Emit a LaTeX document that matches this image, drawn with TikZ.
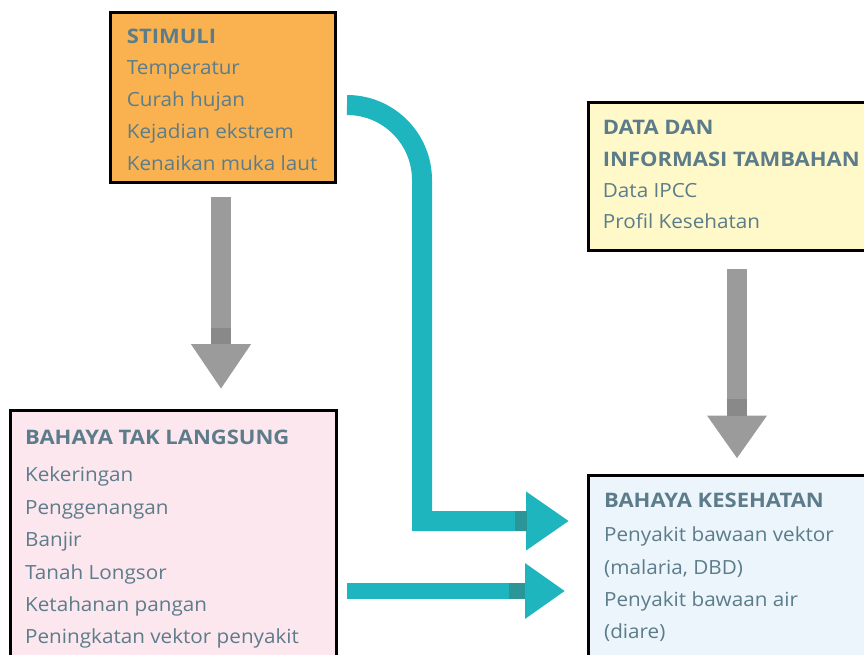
\documentclass[tikz,border=0pt]{standalone}
\usepackage{fontspec}
\setmainfont{Open Sans}[FakeStretch=1.06, BoldFeatures={FakeStretch=1.10}]
\usetikzlibrary{arrows.meta}
\definecolor{cOrange}{RGB}{249,178,79}
\definecolor{cYellow}{RGB}{255,249,202}
\definecolor{cPink}{RGB}{253,231,239}
\definecolor{cBlue}{RGB}{235,245,251}
\definecolor{cText}{RGB}{92,124,138}
\definecolor{cTeal}{RGB}{31,181,190}
\definecolor{cTealDk}{RGB}{42,150,152}
\definecolor{cGray}{RGB}{155,155,155}
\definecolor{cGrayDk}{RGB}{137,137,137}
\begin{document}
\begin{tikzpicture}[x=1pt,y=-1pt,
  box/.style={draw=black, line width=3pt, inner sep=0pt, outer sep=0pt, anchor=north west},
  txt/.style={anchor=base west, inner sep=0pt, text=cText, font=\fontsize{19.5}{22}\selectfont},
  ttl/.style={txt, font=\fontsize{20}{22}\selectfont\bfseries},
  grayarrow/.style={draw=cGray, line width=20pt, -{Triangle[length=#1, width=57pt]}},
  tealarrow/.style={draw=cTeal, line join=miter}
]
\useasboundingbox (0,0) rectangle (864,655);
\clip (0,0) rectangle (864,655);

% boxes
\node[box, fill=cOrange, minimum width=225.3pt, minimum height=170pt] (stim) at (110.5,12.8) {};
\node[box, fill=cYellow, minimum width=300pt, minimum height=148pt] (data) at (588.8,102.2) {};
\node[box, fill=cPink, minimum width=325.4pt, minimum height=300pt] (tak) at (10.8,410.8) {};
\node[box, fill=cBlue, minimum width=300pt, minimum height=300pt] (kes) at (588.8,475) {};

% texts: STIMULI
\node[ttl] (s0) at (126.7,44) {STIMULI};
\node[txt] (s1) at (126.7,75) {Temperatur};
\node[txt] (s2) at (126.7,106.5) {Curah hujan};
\node[txt] (s3) at (126.7,138.5) {Kejadian ekstrem};
\node[txt] (s4) at (126.7,170.5) {Kenaikan muka laut};

% DATA
\node[ttl] (d0) at (602.7,135) {DATA DAN};
\node[ttl] (d1) at (602.7,167) {INFORMASI TAMBAHAN};
\node[txt] (d2) at (602.7,197) {Data IPCC};
\node[txt] (d3) at (602.7,228) {Profil Kesehatan};

% TAK LANGSUNG
\node[ttl] (t0) at (25,444) {BAHAYA TAK LANGSUNG};
\node[txt] (t1) at (25,481.7) {Kekeringan};
\node[txt] (t2) at (25,514) {Penggenangan};
\node[txt] (t3) at (25,546.7) {Banjir};
\node[txt] (t4) at (25,579.3) {Tanah Longsor};
\node[txt] (t5) at (25,611.7) {Ketahanan pangan};
\node[txt] (t6) at (25,643.3) {Peningkatan vektor penyakit};

% KESEHATAN
\node[ttl] (k0) at (604,507.3) {BAHAYA KESEHATAN};
\node[txt] (k1) at (604,541.7) {Penyakit bawaan vektor};
\node[txt] (k2) at (604,574.3) {(malaria, DBD)};
\node[txt] (k3) at (604,606.7) {Penyakit bawaan air};
\node[txt] (k4) at (604,638.3) {(diare)};

% gray arrows
\coordinate (g1a) at (221,197);
\coordinate (g1b) at (221,389);
\draw[grayarrow=45pt] (g1a) -- (g1b);
\fill[cGrayDk] (211,328) rectangle (231,344);

\coordinate (g2a) at (737,269);
\coordinate (g2b) at (737,458.5);
\draw[grayarrow=43pt] (g2a) -- (g2b);
\fill[cGrayDk] (727,399) rectangle (747,415.5);

% teal arrows
\coordinate (c1a) at (347,105);
\coordinate (c1b) at (422,180);
\coordinate (c1c) at (422,521);
\coordinate (c1d) at (569,521);
\draw[tealarrow, line width=20pt, -{Triangle[length=43pt, width=56pt]}]
  (c1a) .. controls (388.4,105) and (422,138.6) .. (c1b) -- (c1c) -- (c1d);
\fill[cTealDk] (515,511) rectangle (527,531);

\coordinate (c2a) at (347,591);
\coordinate (c2b) at (565,591);
\draw[tealarrow, line width=16pt, -{Triangle[length=40pt, width=53pt]}] (c2a) -- (c2b);
\fill[cTealDk] (509,583) rectangle (525,599);
\end{tikzpicture}
\end{document}
